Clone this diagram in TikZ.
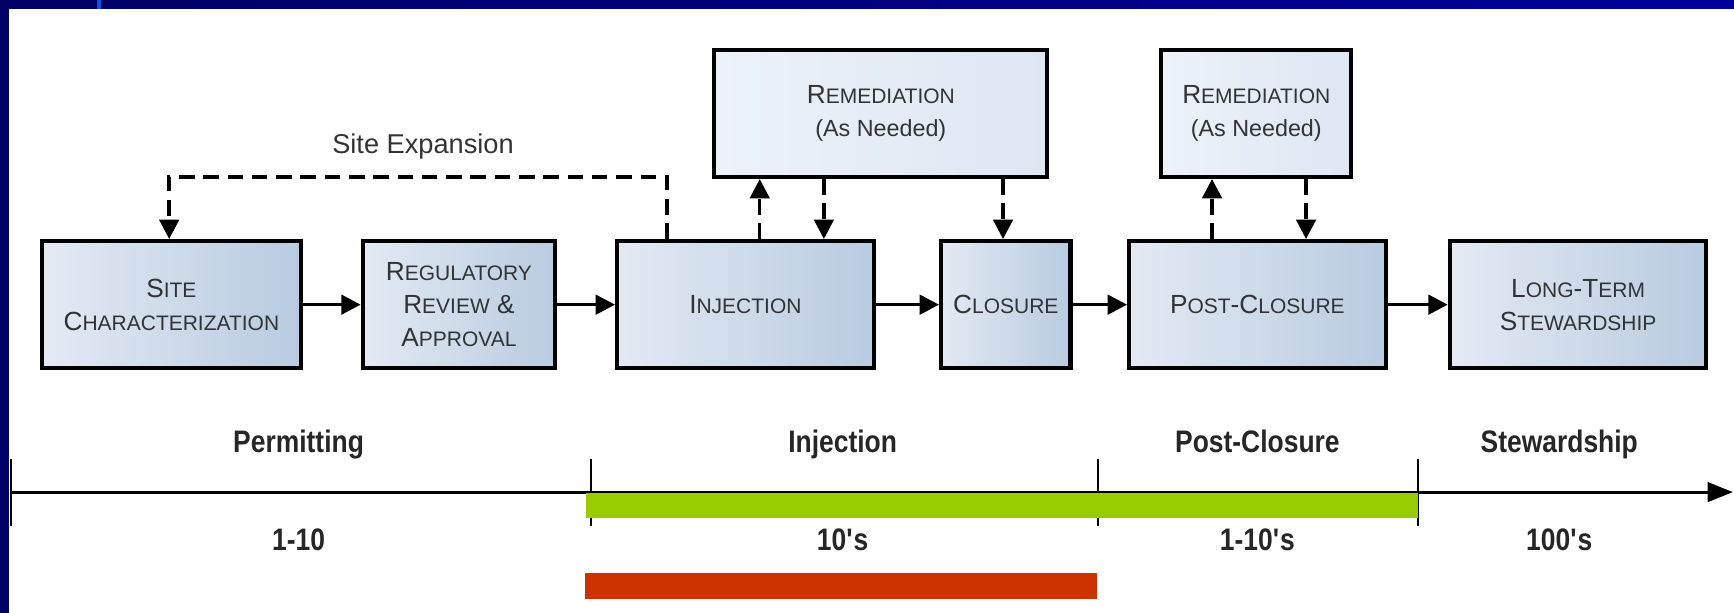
\documentclass[tikz,border=0pt]{standalone}
\usepackage{fontspec}
\setmainfont{Liberation Sans}
\newfontfamily\narrowfont[FakeStretch=0.85]{Liberation Sans}
\usetikzlibrary{arrows.meta,positioning}
\definecolor{navy}{HTML}{000066}
\definecolor{navytwo}{HTML}{000099}
\definecolor{accent}{HTML}{0A55E6}
\definecolor{boxlt}{HTML}{E3EAF3}
\definecolor{boxdk}{HTML}{B8CBE0}
\definecolor{remlt}{HTML}{EDF2F9}
\definecolor{remdk}{HTML}{DDE7F2}
\definecolor{barg}{HTML}{99CC00}
\definecolor{barr}{HTML}{CC3300}
\newcommand{\smc}[1]{{\fontsize{10.8}{13}\selectfont #1}}
\begin{document}
\begin{tikzpicture}[line join=miter,>={Triangle[length=10pt,width=10pt]}]
	\tikzset{box/.style={draw=black,line width=2.1pt,minimum height=2.3cm,inner sep=0pt,align=center,
			text=black!80,font=\fontsize{13.5}{17}\selectfont,left color=boxlt,right color=boxdk},
		remedbox/.style={box,left color=remlt,right color=remdk},
		flow/.style={->,line width=1.8pt},
		dflow/.style={flow,dash pattern=on 8pt off 4.5pt},
		phase/.style={anchor=base,font=\narrowfont\bfseries\fontsize{16}{19}\selectfont,text=black!85}}
	\useasboundingbox (0,0) rectangle (31.36,11.08);
	% frame
	\shade[left color=navy,right color=navytwo] (0,10.92) rectangle (31.36,11.08);
	\fill[navy] (0,0) rectangle (0.163,11.08);
	\fill[accent] (1.75,10.92) rectangle (1.83,11.08);
	% stages
	\node[box,minimum width=4.68cm] (site) at (3.10,5.57) {S\smc{ITE}\\C\smc{HARACTERIZATION}};
	\node[box,minimum width=3.48cm] (reg) at (8.30,5.57) {R\smc{EGULATORY}\\R\smc{EVIEW} \&\\A\smc{PPROVAL}};
	\node[box,minimum width=4.64cm] (inj) at (13.48,5.57) {I\smc{NJECTION}};
	\node[box,minimum width=2.34cm] (clo) at (18.19,5.57) {C\smc{LOSURE}};
	\node[box,minimum width=4.64cm] (post) at (22.74,5.57) {P\smc{OST}-C\smc{LOSURE}};
	\node[box,minimum width=4.64cm] (lts) at (28.54,5.57) {L\smc{ONG}-T\smc{ERM}\\S\smc{TEWARDSHIP}};
	\node[remedbox,minimum width=6.02cm] (rem1) at (15.93,9.03) {R\smc{EMEDIATION}\\{\fontsize{12}{14}\selectfont (As Needed)}};
	\node[remedbox,minimum width=3.44cm] (rem2) at (22.72,9.03) {R\smc{EMEDIATION}\\{\fontsize{12}{14}\selectfont (As Needed)}};
	\draw[flow] (site) -- (reg);
	\draw[flow] (reg) -- (inj);
	\draw[flow] (inj) -- (clo);
	\draw[flow] (clo) -- (post);
	\draw[flow] (post) -- (lts);
	% remediation loops
	\coordinate (a1) at (13.74,0);
	\coordinate (a2) at (14.90,0);
	\coordinate (a3) at (18.14,0);
	\coordinate (a4) at (21.92,0);
	\coordinate (a5) at (23.62,0);
	\draw[dflow] (inj.north -| a1) -- (rem1.south -| a1);
	\draw[dflow] (rem1.south -| a2) -- (inj.north -| a2);
	\draw[dflow] (rem1.south -| a3) -- (clo.north -| a3);
	\draw[dflow] (post.north -| a4) -- (rem2.south -| a4);
	\draw[dflow] (rem2.south -| a5) -- (post.north -| a5);
	\coordinate (expR) at (12.06,7.88);
	\coordinate (expL) at (3.06,7.88);
	\draw[dflow] (inj.north -| expR) -- (expR) -- node[pos=.49,above=5pt,font=\fontsize{14}{16}\selectfont,text=black!80] (explbl) {Site Expansion} (expL) -- (site.north -| expL);
	% time line
	\coordinate (tstart) at (0.2,2.18);
	\coordinate (tend) at (31.34,2.18);
	\draw[line width=1.5pt,-{Triangle[length=13pt,width=10pt]}] (tstart) -- (tend);
	\foreach \x in {0.2,10.68,19.86,25.64}
	\draw[line width=1pt] (\x,2.78)--(\x,1.56);
	\fill[barg] (10.6,2.17) rectangle (25.64,1.72);
	\fill[barr] (10.58,0.72) rectangle (19.84,0.25);
	\foreach \x/\a/\b [count=\i] in {5.4/Permitting/1-10,15.24/Injection/10\textquotesingle s,
		22.74/Post-Closure/1-10\textquotesingle s,28.2/Stewardship/100\textquotesingle s}
	{\node[phase] (ph\i) at (\x,2.9) {\a};
		\node[phase] (yr\i) at (\x,1.13) {\b};}
\end{tikzpicture}
\end{document}
